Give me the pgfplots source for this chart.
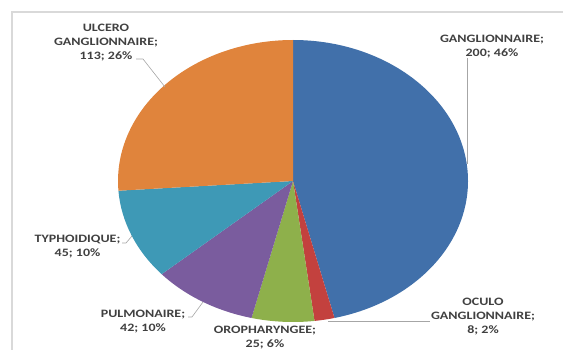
\documentclass[border=0pt]{standalone}
\usepackage{pgfplots}
\pgfplotsset{compat=1.18}
\usepackage{fontspec}
\setmainfont{Carlito}
\usepackage{graphicx}
\definecolor{cblue}{HTML}{4170AA}
\definecolor{cred}{HTML}{C3413E}
\definecolor{cgreen}{HTML}{8EB04B}
\definecolor{cpurple}{HTML}{7A5C9E}
\definecolor{cteal}{HTML}{3E99B6}
\definecolor{corange}{HTML}{E0843C}
\definecolor{ctext}{HTML}{404040}
\definecolor{cline}{HTML}{A6A6A6}
\newcommand\lbl[1]{\scalebox{1.24}[1]{\fontsize{11.3bp}{13.8bp}\selectfont\bfseries\begin{tabular}{@{}c@{}}#1\end{tabular}}}
\newcommand\slice[3]{% start value, cumulative end value, colour
  \fill[#3] (axis cs:293,169) -- (axis cs:{293+175*cos(90-(#1)/433*360)},{169+141*sin(90-(#1)/433*360)})
    arc[start angle={90-(#1)/433*360}, end angle={90-(#2)/433*360}, x radius=175, y radius=141] -- cycle;}
\begin{document}
\begin{tikzpicture}
\begin{axis}[width=563bp,height=350bp,scale only axis,hide axis,
  xmin=0,xmax=563,ymin=0,ymax=350,clip=false]
\draw[gray!30, line width=1.5bp] (axis cs:12,0) -- (axis cs:12,338) -- (axis cs:563,338);
% values: 200, 8, 25, 42, 45, 113 (total 433)
\slice{0}{200}{cblue}
\slice{200}{200+8}{cred}
\slice{208}{208+25}{cgreen}
\slice{233}{233+42}{cpurple}
\slice{275}{275+45}{cteal}
\slice{320}{320+113}{corange}
% leader lines
\draw[cline, line width=0.6bp] (axis cs:136,291) -- (axis cs:143,291) -- (axis cs:165,263);
\draw[cline, line width=0.6bp] (axis cs:467,292) -- (axis cs:467,186);
\draw[cline, line width=0.6bp] (axis cs:430,29) -- (axis cs:328,29);
\draw[cline, line width=0.6bp] (axis cs:122,107) -- (axis cs:126,107) -- (axis cs:132,114);
\draw[cline, line width=0.6bp] (axis cs:188,33) -- (axis cs:192,33) -- (axis cs:203,48);
% labels
\node[ctext, inner sep=0pt] at (axis cs:106,307) {\lbl{ULCERO\\GANGLIONNAIRE;\\113; 26\%}};
\node[ctext, inner sep=0pt] at (axis cs:492,303.5) {\lbl{GANGLIONNAIRE;\\200; 46\%}};
\node[ctext, inner sep=0pt] at (axis cs:483,33) {\lbl{OCULO\\GANGLIONNAIRE;\\8; 2\%}};
\node[ctext, inner sep=0pt] at (axis cs:265,12) {\lbl{OROPHARYNGEE;\\25; 6\%}};
\node[ctext, inner sep=0pt] at (axis cs:143,28) {\lbl{PULMONAIRE;\\42; 10\%}};
\node[ctext, inner sep=0pt] at (axis cs:77.5,103.5) {\lbl{TYPHOIDIQUE;\\45; 10\%}};
\end{axis}
\pgfresetboundingbox
\useasboundingbox (0,0) rectangle (563bp,350bp);
\end{tikzpicture}
\end{document}
